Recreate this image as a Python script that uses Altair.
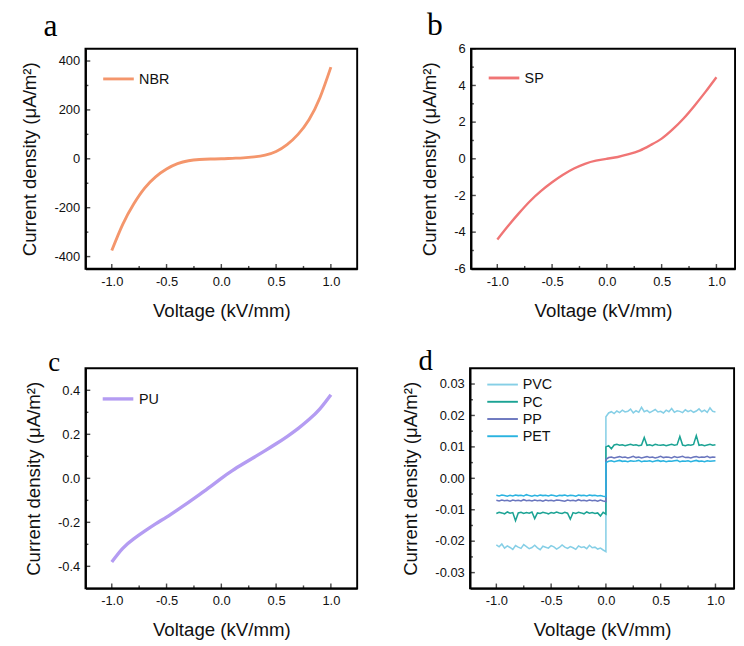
import altair as alt
import pandas as pd

MINUS = "\u2212"

# ---------------- data ----------------
xv = [-1.0, -0.9, -0.8, -0.7, -0.6, -0.5, -0.4, -0.3, -0.2, -0.1, 0.0,
      0.1, 0.2, 0.3, 0.4, 0.5, 0.6, 0.7, 0.8, 0.9, 1.0]

nbr = [-375, -268, -185, -120, -74, -42, -20, -8, -3, -1, 0,
       2, 4, 8, 15, 30, 58, 100, 160, 250, 375]

sp = [-4.4, -3.65, -2.95, -2.3, -1.75, -1.28, -0.87, -0.53, -0.27, -0.1, 0.0,
      0.1, 0.25, 0.45, 0.75, 1.1, 1.6, 2.2, 2.9, 3.65, 4.45]

pu = [-0.38, -0.318, -0.275, -0.24, -0.207, -0.176, -0.143, -0.109, -0.074, -0.038, 0.0,
      0.035, 0.066, 0.096, 0.126, 0.157, 0.19, 0.226, 0.267, 0.316, 0.38]

# panel d: sampled every 0.025 kV/mm, values in units of 1e-4 uA/m2
xd_neg = [round(-1.0 + 0.025 * i, 3) for i in range(41)]
xd_pos = [round(0.025 * i, 3) for i in range(41)]

pvc_neg = [-212, -218, -209, -222, -215, -220, -226, -214, -219, -223, -211, -217, -224, -220,
           -213, -221, -227, -216, -219, -222, -214, -218, -225, -220, -212, -219, -223, -217,
           -221, -226, -215, -220, -218, -224, -213, -221, -219, -225, -222, -228, -233]
pvc_pos = [196, 208, 212, 206, 214, 209, 217, 211, 213, 220, 208, 215, 210, 226, 212, 216, 209,
           214, 219, 211, 213, 208, 217, 212, 222, 210, 215, 213, 209, 218, 212, 216, 210, 214,
           221, 212, 217, 210, 224, 213, 211]
pc_neg = [-112, -108, -110, -113, -107, -111, -109, -135, -110, -108, -112, -109, -111, -107,
          -128, -110, -112, -108, -110, -113, -109, -111, -107, -110, -112, -108, -111, -130,
          -109, -112, -108, -110, -113, -107, -111, -109, -112, -110, -120, -108, -114]
pc_pos = [100, 104, 94, 106, 108, 105, 107, 104, 106, 108, 105, 107, 104, 106, 130, 105, 107,
          104, 108, 106, 105, 107, 104, 106, 108, 105, 107, 133, 106, 104, 107, 105, 108, 136,
          105, 107, 104, 106, 108, 105, 107]
pp_neg = [-70, -72, -69, -71, -70, -73, -69, -71, -70, -72, -68, -71, -70, -72, -69, -71, -70,
          -73, -69, -71, -70, -72, -69, -70, -71, -73, -69, -71, -70, -72, -68, -71, -70, -72,
          -69, -71, -70, -73, -69, -72, -74]
pp_pos = [60, 66, 68, 65, 67, 69, 66, 68, 65, 67, 70, 66, 68, 65, 67, 69, 66, 68, 65, 67, 70,
          66, 68, 67, 65, 69, 66, 68, 70, 66, 67, 65, 68, 69, 66, 68, 67, 70, 66, 68, 67]
pet_neg = [-54, -56, -53, -55, -57, -54, -56, -53, -55, -54, -56, -52, -55, -57, -54, -56, -53,
           -55, -54, -56, -53, -55, -57, -54, -55, -53, -56, -54, -55, -57, -53, -55, -54, -56,
           -53, -55, -54, -56, -55, -57, -58]
pet_pos = [50, 54, 56, 53, 55, 57, 54, 55, 53, 56, 54, 55, 57, 53, 55, 54, 56, 53, 55, 57, 54,
           56, 53, 55, 54, 56, 57, 53, 55, 54, 56, 53, 55, 57, 54, 55, 53, 56, 54, 55, 56]

d_names = ["PVC", "PC", "PP", "PET"]
d_colors = ["#86CFE6", "#1BA394", "#6A76BE", "#2AB3E0"]

x_major = [-1.0, -0.5, 0.0, 0.5, 1.0]
x_minor = [-0.75, -0.25, 0.25, 0.75]

# ---------------- styling ----------------
FONT = "Liberation Sans"
SERIF = "Liberation Serif"
W_L, W_R, H = 284, 276, 230
XDOM_L = [-1.24, 1.24]
XDOM_R = [-1.24, 1.17]
FRAME = "black"


def fmt_expr(f):
    return "replace(format(datum.value, '%s'), '%s', '-')" % (f, MINUS)


def panel(df, names, colors, xdom, W, ydom, y_major, y_minor, yfmt, letter, ldx, ldy, lsize,
          legx, legy, lw, sym_w, interp):
    xscale = alt.Scale(domain=xdom, nice=False, zero=False)
    yscale = alt.Scale(domain=ydom, nice=False, zero=False)
    xaxis = alt.Axis(values=x_major, labelExpr=fmt_expr(".1f"), tickSize=0, labelPadding=6,
                     title="Voltage (kV/mm)", titlePadding=15, grid=False,
                     domainColor=FRAME, domainWidth=2, labelFont=FONT, labelFontSize=13.5,
                     labelColor="#111", titleFont=FONT, titleFontSize=19.5,
                     titleFontWeight="normal", titleColor="#111")
    yaxis = alt.Axis(values=y_major, labelExpr=fmt_expr(yfmt), tickSize=0, labelPadding=6,
                     title="Current density (\u03bcA/m\u00b2)", titlePadding=15, grid=False,
                     domainColor=FRAME, domainWidth=2, labelFont=FONT, labelFontSize=13.5,
                     labelColor="#111", titleFont=FONT, titleFontSize=19.5,
                     titleFontWeight="normal", titleColor="#111")
    X = alt.X("x:Q", scale=xscale, axis=xaxis)
    Y = alt.Y("y:Q", scale=yscale, axis=yaxis)

    lines = alt.Chart(df).mark_line(strokeWidth=lw, interpolate=interp, clip=True).encode(
        x=X, y=Y,
        color=alt.Color("s:N", scale=alt.Scale(domain=names, range=colors),
                        legend=alt.Legend(orient="none", legendX=legx, legendY=legy, title=None,
                                          symbolType="M-2,0L2,0", symbolSize=256,
                                          symbolStrokeWidth=sym_w, labelFont=FONT,
                                          labelFontSize=15, labelColor="#111", labelOffset=12,
                                          rowPadding=1)),
        order=alt.Order("i:Q"),
    )

    xt_maj = alt.Chart(pd.DataFrame({"x": x_major})).mark_tick(
        color=FRAME, size=5, thickness=1.5).encode(x=X, y=alt.value(H - 2.5))
    xt_min = alt.Chart(pd.DataFrame({"x": x_minor})).mark_tick(
        color=FRAME, size=3, thickness=1.5).encode(x=X, y=alt.value(H - 1.5))
    yt_maj = alt.Chart(pd.DataFrame({"y": y_major})).mark_tick(
        color=FRAME, size=5, thickness=1.5).encode(y=Y, x=alt.value(2.5))
    yt_min = alt.Chart(pd.DataFrame({"y": y_minor})).mark_tick(
        color=FRAME, size=3, thickness=1.5).encode(y=Y, x=alt.value(1.5))

    one = pd.DataFrame({"t": [letter]})
    lab = alt.Chart(one).mark_text(font=SERIF, fontSize=lsize, align="left",
                                   baseline="top", color="black").encode(
        x=alt.value(ldx), y=alt.value(ldy), text="t:N")
    layers = [lines, xt_maj, xt_min, yt_maj, yt_min, lab]
    return alt.layer(*layers).properties(width=W, height=H)


def single_df(xs, ys, name):
    return pd.DataFrame({"x": xs, "y": ys, "s": name, "i": list(range(len(xs)))})


df_a = single_df(xv, nbr, "NBR")
df_b = single_df(xv, sp, "SP")
df_c = single_df(xv, pu, "PU")

parts = []
for name, neg, pos in zip(d_names, [pvc_neg, pc_neg, pp_neg, pet_neg],
                          [pvc_pos, pc_pos, pp_pos, pet_pos]):
    xs = xd_neg + xd_pos
    ys = [v / 10000 for v in neg + pos]
    parts.append(pd.DataFrame({"x": xs, "y": ys, "s": name, "i": list(range(len(xs)))}))
df_d = pd.concat(parts, ignore_index=True)

pa = panel(df_a, ["NBR"], ["#F4966C"], XDOM_L, W_L, [-450, 450],
           [-400, -200, 0, 200, 400], [-300, -100, 100, 300], "d",
           "a", -44, -39, 33, 25, 22, 3, 3, "natural")
pb = panel(df_b, ["SP"], ["#F07575"], XDOM_R, W_R, [-6, 6],
           [-6, -4, -2, 0, 2, 4, 6], [-5, -3, -1, 1, 3, 5], "d",
           "b", -46, -40, 33, 25, 21, 2.5, 3, "natural")
pc = panel(df_c, ["PU"], ["#B49CF2"], XDOM_L, W_L, [-0.5, 0.5],
           [-0.4, -0.2, 0.0, 0.2, 0.4], [-0.3, -0.1, 0.1, 0.3], ".1f",
           "c", -39, -19, 28, 24, 22, 3.5, 3.5, "natural")
pd_ = panel(df_d, d_names, d_colors, XDOM_R, W_R, [-0.035, 0.035],
            [-0.03, -0.02, -0.01, 0.0, 0.01, 0.02, 0.03],
            [-0.025, -0.015, -0.005, 0.005, 0.015, 0.025], ".2f",
            "d", -54, -22, 30, 25, 8, 1.6, 2, "linear")

row1 = alt.hconcat(pa, pb, spacing=63).resolve_scale(color="independent", x="independent", y="independent")
row2 = alt.hconcat(pc, pd_, spacing=44).resolve_scale(color="independent", x="independent", y="independent")

chart = alt.vconcat(row1, row2, spacing=27).resolve_scale(
    color="independent", x="independent", y="independent"
).properties(
    padding={"left": 11, "top": -13, "right": 0, "bottom": 0},
    background="white",
).configure_view(stroke="black", strokeWidth=2)

chart.save("out.html", embed_options={"renderer": "svg", "actions": False})
